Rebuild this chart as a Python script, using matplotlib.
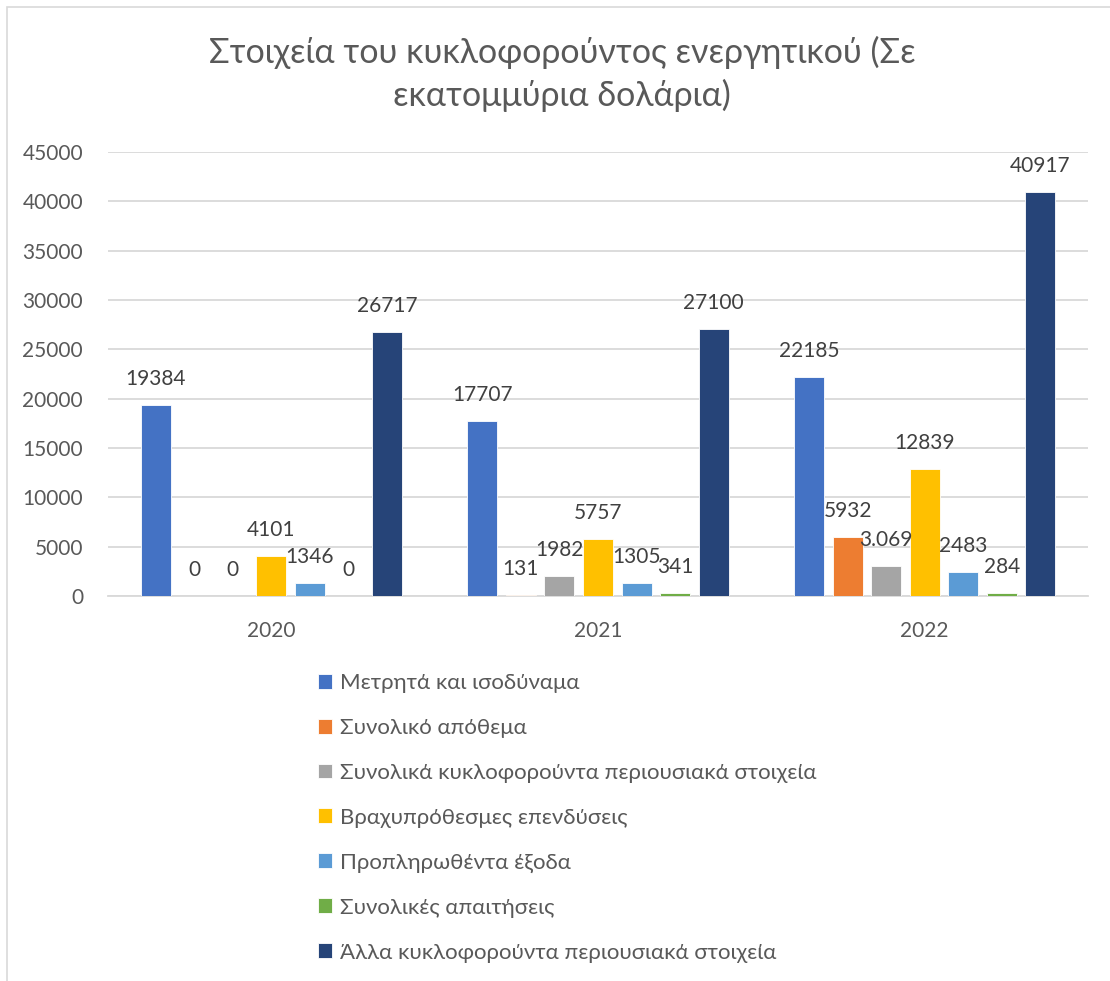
import numpy as np
import matplotlib
matplotlib.use("Agg")
import matplotlib.pyplot as plt
from matplotlib.patches import Rectangle

plt.rcParams['font.family'] = ['Lato', 'Noto Sans', 'DejaVu Sans']

# data (εκατομμύρια δολάρια)
years = ["2020", "2021", "2022"]
series_names = [
    "Μετρητά και ισοδύναμα",
    "Συνολικό απόθεμα",
    "Συνολικά κυκλοφορούντα περιουσιακά στοιχεία",
    "Βραχυπρόθεσμες επενδύσεις",
    "Προπληρωθέντα έξοδα",
    "Συνολικές απαιτήσεις",
    "Άλλα κυκλοφορούντα περιουσιακά στοιχεία",
]
cash = [19384, 17707, 22185]
inventory = [0, 131, 5932]
total_current = [0, 1982, 3069]
short_term_inv = [4101, 5757, 12839]
prepaid = [1346, 1305, 2483]
receivables = [0, 341, 284]
other_current = [26717, 27100, 40917]
series_values = [cash, inventory, total_current, short_term_inv, prepaid, receivables, other_current]
# the one label that was written with a thousands separator
label_override = {(2, 2): "3.069"}

colors = ["#4472C4", "#ED7D31", "#A5A5A5", "#FFC000", "#5B9BD5", "#70AD47", "#264478"]

fig = plt.figure(figsize=(11.1, 9.81), dpi=100)

# chart frame (clipped at right and bottom)
fig.patches.append(Rectangle((7 / 1110, -0.1), 1.2, 1 - 7 / 981 + 0.1, transform=fig.transFigure,
                             fill=False, edgecolor="#D9D9D9", linewidth=1.2))

fig.text(562 / 1110, 1 - 74 / 981,
         "Στοιχεία του κυκλοφορούντος ενεργητικού (Σε\nεκατομμύρια δολάρια)",
         ha="center", va="center", fontsize=24.5, color="#595959", linespacing=1.35)

ax = fig.add_axes([108 / 1110, 385 / 981, 980 / 1110, 444 / 981])

x = np.arange(len(years))
pitch = 0.118
width = 0.092
n = len(series_values)
handles = []
for i, (vals, col, name) in enumerate(zip(series_values, colors, series_names)):
    xs = x + (i - (n - 1) / 2) * pitch
    bars = ax.bar(xs, vals, width, color=col, edgecolor="white", linewidth=0.6, label=name, zorder=3)
    handles.append(bars)
    for j, (xx, v) in enumerate(zip(xs, vals)):
        txt = label_override.get((i, j), str(v))
        ax.annotate(txt, (xx, v), xytext=(0, 26), textcoords="offset pixels",
                    ha="center", va="center", fontsize=15, color="#404040", zorder=4)

ax.set_xlim(-0.5, 2.5)
ax.set_ylim(0, 45000)
ax.set_yticks(np.arange(0, 45001, 5000))
ax.set_xticks(x)
ax.set_xticklabels(years)
ax.yaxis.grid(True, color="#D9D9D9", linewidth=1.3, zorder=0)
for s in ["top", "right", "left"]:
    ax.spines[s].set_visible(False)
ax.spines["bottom"].set_color("#D9D9D9")
ax.spines["bottom"].set_linewidth(1.3)
ax.tick_params(axis="both", length=0, labelsize=15, labelcolor="#595959")
ax.tick_params(axis="y", pad=18)
ax.tick_params(axis="x", pad=18)

fig.legend(handles=handles, labels=series_names, loc="upper left",
           bbox_to_anchor=(318 / 1110, 1 - 673 / 981), frameon=False,
           fontsize=16, labelcolor="#595959", handlelength=0.65, handleheight=0.65,
           handletextpad=0.35, labelspacing=1.12, borderpad=0, borderaxespad=0)

fig.savefig("out.png", dpi=100, facecolor="white")
